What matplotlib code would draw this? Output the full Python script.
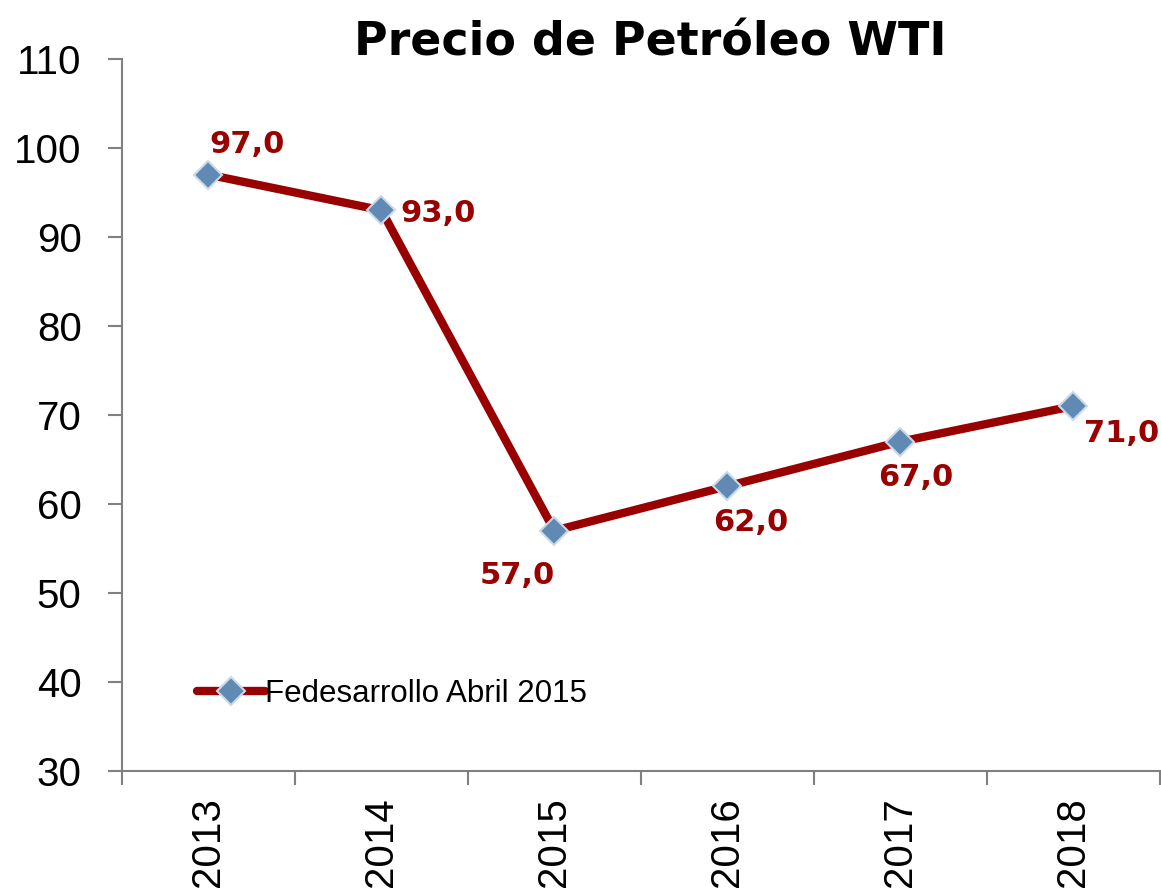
import matplotlib.pyplot as plt

years = ['2013', '2014', '2015', '2016', '2017', '2018']
precio = [97.0, 93.0, 57.0, 62.0, 67.0, 71.0]
serie = 'Fedesarrollo Abril 2015'
# label offsets in points (dx, dy)
offsets = [(28, 22), (41, -2), (-27, -32), (17, -26), (11, -26), (35, -20)]

fig = plt.figure(figsize=(11.61, 8.93), dpi=100)
ax = fig.add_axes([0.105, 0.1366, 0.894, 0.7974])

x = range(len(years))
ax.plot(x, precio, color='#990000', lw=6, solid_capstyle='round',
        marker='D', ms=14, mfc='#6089b3', mec='#c9d9ea', mew=1.5,
        label=serie, zorder=3)

for i, v in enumerate(precio):
    ax.annotate(('%.1f' % v).replace('.', ','), (i, v), xytext=offsets[i],
                textcoords='offset points', ha='center', va='center',
                fontsize=22, fontweight='bold', color='#990000',
                family='DejaVu Sans')

ax.set_xlim(-0.5, 5.5)
ax.set_ylim(30, 110)
ax.set_yticks(range(30, 111, 10))
ax.set_xticks(list(x))
ax.set_xticklabels(years, rotation=90, family='Liberation Sans', fontsize=29)
ax.set_xticks([i + 0.5 for i in range(-1, 6)], minor=True)
ax.tick_params(axis='x', which='major', length=0, pad=19)
ax.tick_params(axis='x', which='minor', length=10, width=1.5, color='#808080')
ax.tick_params(axis='y', length=10, width=1.5, color='#808080', pad=19,
               labelsize=29)
for lab in ax.get_yticklabels():
    lab.set_family('Liberation Sans')

for s in ['top', 'right']:
    ax.spines[s].set_visible(False)
for s in ['left', 'bottom']:
    ax.spines[s].set_color('#808080')
    ax.spines[s].set_linewidth(1.5)

leg = ax.legend(loc='lower left', bbox_to_anchor=(0.06, 0.07), frameon=False,
                handlelength=2.2, handletextpad=0.0, borderaxespad=0,
                prop={'family': 'Liberation Sans', 'size': 22.5})

fig.text(650 / 1161, 1 - 55 / 893, 'Precio de Petróleo WTI', ha='center',
         va='baseline', fontsize=33, fontweight='bold', family='DejaVu Sans')

fig.savefig('out.png', dpi=100)
